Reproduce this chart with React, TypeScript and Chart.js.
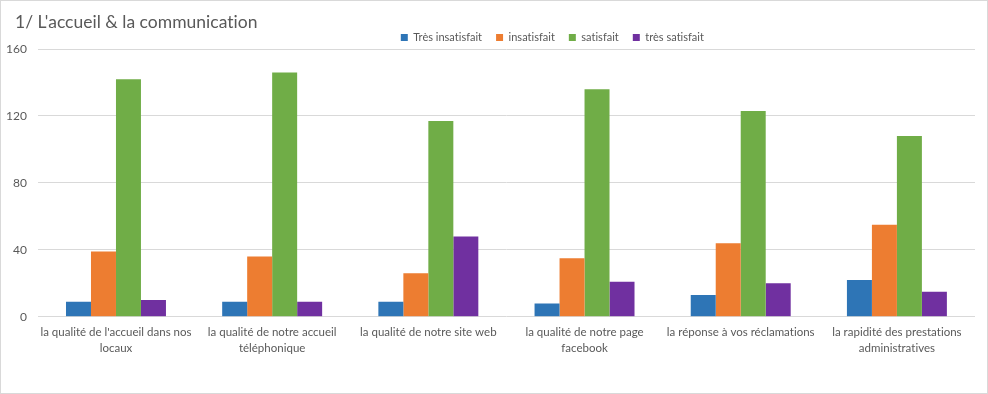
import React, { useEffect, useRef } from "react";
import { Chart, registerables } from "chart.js";

Chart.register(...registerables);

const categories: string[][] = [
  ["la qualité de l'accueil dans nos", "locaux"],
  ["la qualité de notre accueil", "téléphonique"],
  ["la qualité de notre site web"],
  ["la qualité de notre page", "facebook"],
  ["la réponse à vos réclamations"],
  ["la rapidité des prestations", "administratives"],
];

const seriesNames = ["Très insatisfait", "insatisfait", "satisfait", "très satisfait"];
const tresInsatisfait = [9, 9, 9, 8, 13, 22];
const insatisfait = [39, 36, 26, 35, 44, 55];
const satisfait = [142, 146, 117, 136, 123, 108];
const tresSatisfait = [10, 9, 48, 21, 20, 15];
const colors = ["#2E75B6", "#ED7D31", "#70AD47", "#7030A0"];
const yTicks = [0, 40, 80, 120, 160];
const titleText = "1/ L'accueil & la communication";

const FONT = "Lato, 'Noto Sans', sans-serif";
const TEXT = "#595959";

const legendPlugin = {
  id: "legendTweak",
  beforeInit(chart: any) {
    const legend = chart.legend;
    if (!legend) return;
    const orig = legend.fit;
    legend.fit = function () {
      orig.call(this);
      this.height = 31;
    };
  },
  afterLayout(chart: any) {
    const legend = chart.legend;
    if (!legend) return;
    legend.left += 62;
    legend.right += 62;
  },
  beforeDraw(chart: any) {
    try {
      chart.ctx.letterSpacing = "0.01px";
    } catch (e) {}
  },
};

const titlePlugin = {
  id: "customTitle",
  afterDraw(chart: any) {
    const ctx = chart.ctx;
    ctx.save();
    try {
      ctx.letterSpacing = "0.01px";
    } catch (e) {}
    ctx.font = `17.5px ${FONT}`;
    ctx.fillStyle = TEXT;
    ctx.textBaseline = "middle";
    ctx.textAlign = "left";
    ctx.fillText(titleText, 14, 21);
    ctx.restore();
  },
};

export default function App() {
  const ref = useRef<HTMLCanvasElement | null>(null);

  useEffect(() => {
    if (!ref.current) return;
    const values = [tresInsatisfait, insatisfait, satisfait, tresSatisfait];
    const chart = new Chart(ref.current, {
      type: "bar",
      data: {
        labels: categories,
        datasets: values.map((v, i) => ({
          label: seriesNames[i],
          data: v,
          backgroundColor: colors[i],
          borderWidth: 0,
          categoryPercentage: 0.64,
          barPercentage: 1.0,
        })),
      },
      options: {
        animation: false,
        responsive: false,
        maintainAspectRatio: false,
        layout: { padding: { left: 5, right: 12, top: 17, bottom: 30 } },
        plugins: {
          title: { display: false },
          legend: {
            display: true,
            position: "top",
            labels: {
              color: TEXT,
              font: { family: FONT, size: 11 },
              boxWidth: 7,
              boxHeight: 7,
              padding: 14,
            },
          },
          tooltip: { enabled: false },
        },
        scales: {
          x: {
            grid: { display: false, drawTicks: false },
            border: { display: false },
            afterFit: (s: any) => {
              s.paddingLeft = 0;
              s.paddingRight = 0;
            },
            ticks: {
              color: TEXT,
              font: { family: FONT, size: 11.5, lineHeight: 1.4 },
              padding: 7,
              maxRotation: 0,
              autoSkip: false,
            },
          },
          y: {
            min: 0,
            max: 160,
            afterBuildTicks: (axis: any) => {
              axis.ticks = yTicks.map((v) => ({ value: v }));
            },
            afterFit: (s: any) => {
              s.width = s.width - 11;
            },
            grid: { color: "#D9D9D9", drawTicks: false, lineWidth: 1 },
            border: { display: false },
            ticks: {
              color: TEXT,
              font: { family: FONT, size: 12 },
              padding: 11,
            },
          },
        },
      },
      plugins: [legendPlugin, titlePlugin],
    });
    return () => chart.destroy();
  }, []);

  return (
    <div
      style={{
        position: "absolute",
        left: 0,
        top: 0,
        width: 988,
        height: 394,
        boxSizing: "border-box",
        border: "1px solid #D9D9D9",
        background: "#fff",
      }}
    >
      <canvas ref={ref} width={986} height={392} style={{ display: "block" }} />
    </div>
  );
}
